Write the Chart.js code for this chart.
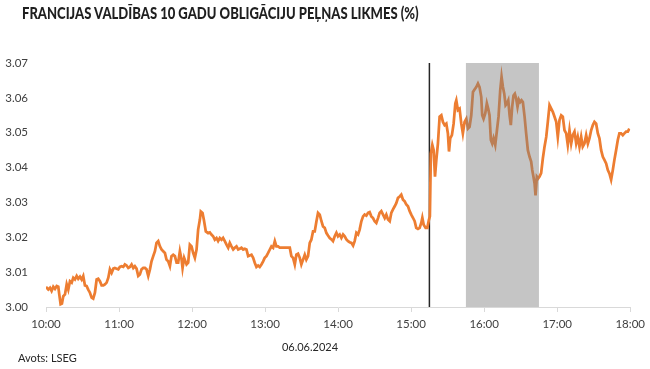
<!DOCTYPE html>
<html>
<head>
<meta charset="utf-8">
<title>Francijas 10 gadu obligāciju peļņas likmes</title>
<script src="https://cdn.jsdelivr.net/npm/chart.js"></script>
<style>
  body { margin: 0; background: #fff; }
  #wrap { position: relative; width: 650px; height: 369px; font-family: Lato, "Open Sans", sans-serif; }
  #yieldChart { position: absolute; left: 0; top: 0; }
  .txt { position: absolute; white-space: nowrap; line-height: 1; }
  #title { left: 22px; top: 5px; font-size: 16.5px; font-weight: 900; color: #1f1f1f;
           transform: scaleX(0.79); transform-origin: 0 0; }
  #date { left: 310px; top: 341px; transform: translateX(-50%); font-size: 11px; color: #262626; }
  #source { left: 18px; top: 352px; font-size: 11px; color: #262626; }
</style>
</head>
<body>
<div id="wrap">
  <canvas id="yieldChart" width="650" height="369"></canvas>
  <div class="txt" id="title">FRANCIJAS VALDĪBAS 10 GADU OBLIGĀCIJU PEĻŅAS LIKMES (%)</div>
  <div class="txt" id="date">06.06.2024</div>
  <div class="txt" id="source">Avots: LSEG</div>
</div>

<script>
// minutes after 10:00 and yield (%)
var minutes = [
  0, 1.9, 3.3, 4.6, 6.0, 7.4, 8.8, 10.1, 10.9, 12.0, 13.1, 14.2, 15.6, 17.0, 18.3, 19.7,
  21.1, 22.4, 23.8, 25.2, 26.5, 27.9, 29.3, 30.6, 32.0, 33.4, 34.7, 36.1, 37.5, 38.8, 40.2,
  41.6, 42.9, 44.3, 45.7, 47.1, 48.4, 49.8, 51.2, 52.5, 53.9, 55.3, 56.6, 58.0, 59.4, 60.7,
  62.1, 63.5, 64.8, 66.2, 67.6, 68.9, 70.3, 71.7, 73.0, 74.4, 75.8, 77.1, 78.5, 79.9, 81.3,
  82.6, 84.0, 85.4, 86.7, 88.1, 89.5, 90.8, 92.2, 93.6, 94.9, 96.3, 97.7, 99.0, 100.4, 101.8,
  103.1, 104.5, 105.9, 107.3, 108.6, 110.0, 111.4, 112.2, 113.5, 115.5, 116.8, 118.2, 119.6,
  120.9, 122.3, 123.7, 125.0, 126.4, 127.2, 128.6, 129.7, 131.3, 133.2, 134.6, 135.9, 137.3,
  138.7, 140.1, 141.4, 142.8, 144.2, 145.5, 146.9, 148.3, 149.7, 151.0, 152.4, 153.8, 155.1,
  156.5, 157.9, 159.2, 160.6, 162.0, 163.3, 164.7, 166.1, 167.4, 168.8, 170.2, 171.5, 172.9,
  174.3, 175.6, 177.0, 178.4, 179.7, 181.1, 182.5, 183.9, 185.2, 186.6, 188.0, 189.3, 190.7,
  192.1, 193.4, 196.2, 200.3, 201.6, 203.0, 204.4, 205.7, 207.1, 208.5, 209.8, 211.2, 212.6,
  213.9, 215.3, 216.7, 218.0, 219.4, 220.8, 222.2, 223.5, 224.9, 226.3, 227.6, 229.0, 230.4,
  231.7, 233.1, 234.5, 235.8, 237.2, 238.6, 239.9, 241.3, 242.7, 244.1, 245.4, 246.8, 248.2,
  249.5, 250.9, 252.3, 253.6, 255.0, 256.4, 257.7, 259.1, 260.5, 261.8, 263.2, 264.6, 265.9,
  267.3, 268.7, 270.0, 271.4, 272.8, 274.1, 275.5, 276.9, 278.3, 279.6, 281.0, 282.4, 283.7,
  285.1, 286.5, 287.8, 289.2, 290.6, 291.9, 293.3, 294.7, 296.0, 297.4, 298.8, 300.1, 301.5,
  302.9, 304.2, 305.6, 307.0, 308.3, 309.2, 310.3, 311.9, 313.3, 314.6, 315.4, 316.2, 317.4,
  318.5, 319.6, 320.7, 322.0, 323.4, 324.8, 326.1, 327.5, 328.9, 330.2, 331.1, 332.1, 333.5,
  334.9, 336.3, 337.1, 338.4, 339.8, 341.2, 342.5, 343.9, 345.3, 346.7, 348.0, 349.4, 350.8,
  352.1, 353.5, 354.9, 356.2, 357.6, 358.4, 359.5, 360.9, 362.2, 363.3, 364.4, 365.5, 366.6,
  367.7, 369.1, 370.5, 371.8, 373.2, 374.3, 375.4, 376.5, 377.6, 378.7, 379.8, 380.9, 381.9,
  383.0, 384.1, 385.2, 386.3, 387.4, 388.5, 389.6, 390.7, 391.8, 393.2, 394.5, 395.9, 397.3,
  398.6, 399.5, 400.5, 401.4, 402.2, 403.3, 404.4, 405.5, 406.8, 408.2, 409.6, 411.0, 412.3,
  413.7, 415.1, 416.4, 417.8, 419.2, 420.5, 421.9, 423.3, 424.6, 426.0, 427.4, 428.7, 430.1,
  431.5, 432.8, 434.2, 435.6, 436.9, 438.3, 439.7, 441.0, 442.4, 443.8, 445.2, 446.5, 447.9,
  449.3, 450.6, 452.0, 453.4, 454.7, 456.1, 457.5, 458.8, 460.2, 461.6, 462.9, 464.3, 465.7,
  467.0, 468.4, 469.8, 471.1, 472.5, 473.9, 475.2, 476.6, 478.0, 479.3
];
var yields = [
  3.0058, 3.0050, 3.0055, 3.0046, 3.0058, 3.0052, 3.0060, 3.0058, 3.0036, 3.0008, 3.0010, 3.0031, 3.0036, 3.0065, 3.0050, 3.0074,
  3.0070, 3.0084, 3.0079, 3.0089, 3.0081, 3.0087, 3.0079, 3.0089, 3.0062, 3.0060, 3.0050, 3.0041, 3.0027, 3.0024, 3.0041,
  3.0079, 3.0081, 3.0074, 3.0062, 3.0062, 3.0065, 3.0070, 3.0084, 3.0108, 3.0098, 3.0110, 3.0112, 3.0110, 3.0108, 3.0115,
  3.0117, 3.0115, 3.0122, 3.0119, 3.0112, 3.0115, 3.0122, 3.0112, 3.0117, 3.0110, 3.0089, 3.0093, 3.0108, 3.0112, 3.0112,
  3.0108, 3.0089, 3.0108, 3.0131, 3.0146, 3.0160, 3.0184, 3.0189, 3.0174, 3.0165, 3.0160, 3.0155, 3.0136, 3.0131, 3.0117,
  3.0146, 3.0150, 3.0146, 3.0127, 3.0127, 3.0160, 3.0136, 3.0112, 3.0141, 3.0122, 3.0127, 3.0179, 3.0174,
  3.0155, 3.0141, 3.0165, 3.0222, 3.0250, 3.0274, 3.0270, 3.0250, 3.0217, 3.0212, 3.0214, 3.0208, 3.0203,
  3.0193, 3.0198, 3.0189, 3.0198, 3.0193, 3.0198, 3.0189, 3.0179, 3.0170, 3.0184, 3.0174, 3.0165, 3.0170,
  3.0174, 3.0165, 3.0167, 3.0170, 3.0165, 3.0167, 3.0165, 3.0146, 3.0148, 3.0150, 3.0141, 3.0127, 3.0115,
  3.0119, 3.0115, 3.0122, 3.0131, 3.0141, 3.0146, 3.0155, 3.0165, 3.0174, 3.0170, 3.0189, 3.0174, 3.0174,
  3.0170, 3.0170, 3.0170, 3.0170, 3.0146, 3.0141, 3.0122, 3.0150, 3.0153, 3.0141, 3.0122, 3.0136, 3.0150,
  3.0136, 3.0146, 3.0184, 3.0193, 3.0217, 3.0217, 3.0246, 3.0270, 3.0265, 3.0246, 3.0231, 3.0227, 3.0212,
  3.0205, 3.0198, 3.0194, 3.0189, 3.0203, 3.0213, 3.0203, 3.0208, 3.0198, 3.0208, 3.0203, 3.0194, 3.0189,
  3.0186, 3.0184, 3.0176, 3.0189, 3.0213, 3.0208, 3.0222, 3.0246, 3.0260, 3.0265, 3.0262, 3.0270, 3.0272,
  3.0260, 3.0255, 3.0246, 3.0241, 3.0255, 3.0270, 3.0275, 3.0265, 3.0255, 3.0265, 3.0251, 3.0246, 3.0270,
  3.0280, 3.0289, 3.0298, 3.0313, 3.0317, 3.0322, 3.0308, 3.0303, 3.0294, 3.0289, 3.0275, 3.0265, 3.0256,
  3.0246, 3.0227, 3.0224, 3.0227, 3.0241, 3.0256, 3.0236, 3.0227, 3.0227, 3.0250, 3.0260, 3.0440, 3.0465,
  3.0450, 3.0374, 3.0422, 3.0469, 3.0546, 3.0550, 3.0531, 3.0522, 3.0526, 3.0498, 3.0446, 3.0484, 3.0493,
  3.0526, 3.0584, 3.0593, 3.0565, 3.0569, 3.0526, 3.0498, 3.0531, 3.0540, 3.0512, 3.0517, 3.0550, 3.0617,
  3.0624, 3.0631, 3.0641, 3.0631, 3.0603, 3.0550, 3.0540, 3.0555, 3.0584, 3.0569, 3.0550, 3.0479, 3.0469,
  3.0484, 3.0465, 3.0507, 3.0546, 3.0622, 3.0660, 3.0631, 3.0612, 3.0579, 3.0584, 3.0593, 3.0550, 3.0522,
  3.0574, 3.0607, 3.0612, 3.0598, 3.0574, 3.0595, 3.0588, 3.0593, 3.0588, 3.0546, 3.0498, 3.0450, 3.0431,
  3.0417, 3.0393, 3.0374, 3.0355, 3.0320, 3.0374, 3.0369, 3.0374, 3.0384, 3.0426, 3.0460, 3.0488, 3.0531,
  3.0579, 3.0569, 3.0560, 3.0546, 3.0531, 3.0488, 3.0536, 3.0550, 3.0546, 3.0507, 3.0498, 3.0465, 3.0507,
  3.0469, 3.0493, 3.0503, 3.0469, 3.0488, 3.0460, 3.0488, 3.0460, 3.0469, 3.0493, 3.0469, 3.0484, 3.0507,
  3.0522, 3.0531, 3.0526, 3.0498, 3.0484, 3.0450, 3.0431, 3.0422, 3.0412, 3.0393, 3.0383, 3.0365, 3.0393,
  3.0422, 3.0450, 3.0479, 3.0498, 3.0498, 3.0493, 3.0498, 3.0503, 3.0503, 3.0512
];

var eventMinute = 315;            // 15:15 marker
var shadeFrom = 345, shadeTo = 405; // 15:45 - 16:45 band

var points = minutes.map(function (m, i) { return { x: m, y: yields[i] }; });

var markers = {
  id: 'markers',
  beforeDatasetsDraw: function (chart) {
    var c = chart.ctx, a = chart.chartArea, x = chart.scales.x.getPixelForValue(eventMinute);
    c.save();
    c.strokeStyle = '#262626';
    c.lineWidth = 1.5;
    c.beginPath();
    c.moveTo(x, a.top);
    c.lineTo(x, a.bottom);
    c.stroke();
    c.restore();
  },
  afterDatasetsDraw: function (chart) {
    var c = chart.ctx, a = chart.chartArea, sx = chart.scales.x;
    var x1 = sx.getPixelForValue(shadeFrom), x2 = sx.getPixelForValue(shadeTo);
    c.save();
    c.fillStyle = 'rgba(128,128,128,0.46)';
    c.fillRect(x1, a.top, x2 - x1, a.bottom - a.top);
    c.restore();
  }
};

var ctx = document.getElementById('yieldChart').getContext('2d');
var chart = new Chart(ctx, {
  type: 'line',
  data: {
    datasets: [{
      data: points,
      borderColor: '#ED7D31',
      borderWidth: 2.75,
      pointRadius: 0,
      tension: 0,
      fill: false
    }]
  },
  options: {
    responsive: false,
    animation: false,
    events: [],
    layout: { padding: { top: 63, right: 19, left: 0, bottom: 0 } },
    plugins: { legend: { display: false }, tooltip: { enabled: false } },
    scales: {
      x: {
        type: 'linear',
        min: 0,
        max: 480,
        afterFit: function (s) { s.height = 62; },
        border: { display: true, color: '#D9D9D9', width: 1 },
        grid: { display: true, drawOnChartArea: false, drawTicks: true, tickLength: 5, color: '#D9D9D9' },
        ticks: {
          stepSize: 60,
          padding: 5,
          maxRotation: 0,
          color: '#404040',
          font: { family: 'Lato', size: 11.5 },
          callback: function (v) { return (10 + v / 60) + ':00'; }
        }
      },
      y: {
        min: 3.00,
        max: 3.07,
        afterFit: function (s) { s.width = 46; },
        border: { display: false },
        grid: { display: false },
        ticks: {
          stepSize: 0.01,
          padding: 10,
          color: '#404040',
          font: { family: 'Lato', size: 11.5 },
          callback: function (v) { return v.toFixed(2); }
        }
      }
    }
  },
  plugins: [markers]
});
</script>
</body>
</html>
